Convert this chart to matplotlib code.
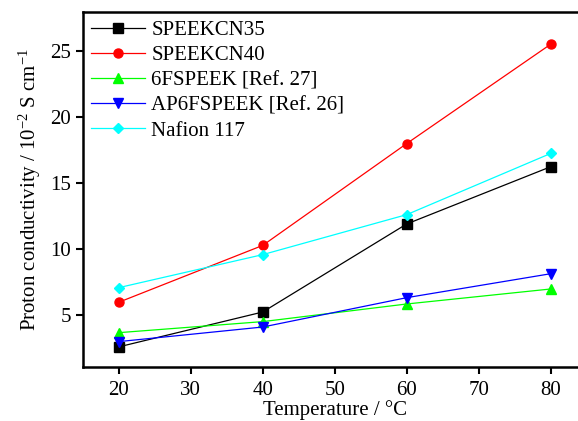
import matplotlib
matplotlib.use("Agg")
import matplotlib.pyplot as plt

temperature = [20, 40, 60, 80]
speekcn35 = [2.55, 5.2, 11.89, 16.24]
speekcn40 = [5.94, 10.26, 18.0, 25.55]
fspeek6 = [3.63, 4.47, 5.81, 6.95]
ap6fspeek = [2.95, 4.06, 6.29, 8.11]
nafion117 = [7.05, 9.56, 12.6, 17.25]

series = [
    ("SPEEKCN35", speekcn35, "black", "s"),
    ("SPEEKCN40", speekcn40, "red", "o"),
    ("6FSPEEK [Ref. 27]", fspeek6, "#00ff00", "^"),
    ("AP6FSPEEK [Ref. 26]", ap6fspeek, "blue", "v"),
    ("Nafion 117", nafion117, "cyan", "D"),
]

plt.rcParams['font.family'] = ['Liberation Serif', 'DejaVu Serif']
plt.rcParams['mathtext.fontset'] = 'custom'
plt.rcParams['mathtext.rm'] = 'Liberation Serif'
plt.rcParams['mathtext.it'] = 'Liberation Serif:italic'

fig = plt.figure(figsize=(5.78, 4.21), dpi=100)
ax = fig.add_axes([0.1431, 0.1276, 0.872, 0.844])

for name, vals, col, mk in series:
    ms = 5.5 if mk == "D" else 6.5
    ax.plot(temperature, vals, color=col, marker=mk, markersize=ms, lw=0.9,
            label=name)

ax.set_xlim(15, 85)
ax.set_ylim(1, 28)
ax.set_xticks([20, 30, 40, 50, 60, 70, 80])
ax.set_yticks([5, 10, 15, 20, 25])
ax.tick_params(direction='out', length=5, width=1.5, labelsize=15)
ax.tick_params(axis='x', pad=5)
for s in ax.spines.values():
    s.set_linewidth(1.8)

ax.set_xlabel("Temperature / \u00b0C", fontsize=15, labelpad=0)
ax.set_ylabel("Proton conductivity / 10$^{-2}$ S cm$^{-1}$", fontsize=15, labelpad=5)

ax.legend(loc='upper left', frameon=False, fontsize=15, handlelength=2.6,
          handletextpad=0.3, labelspacing=0.27, borderaxespad=0.3,
          borderpad=0.1)

fig.savefig("out.png", dpi=100)
